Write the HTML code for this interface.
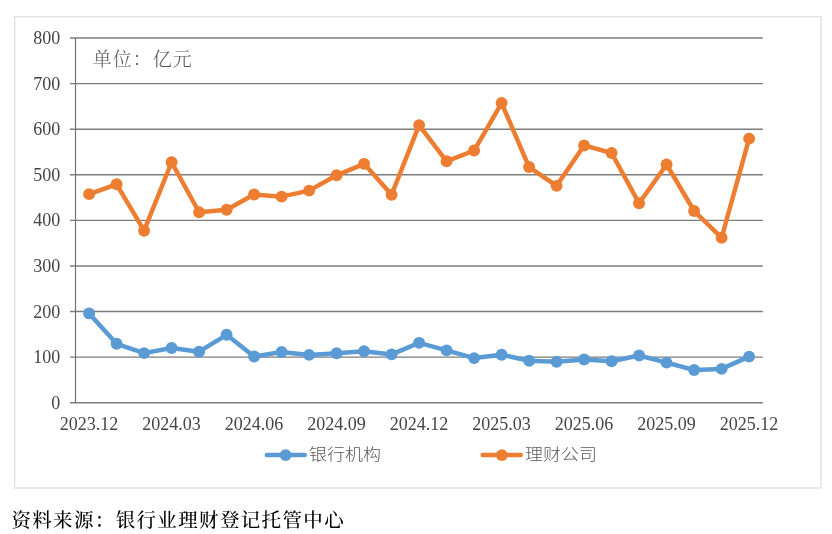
<!DOCTYPE html>
<html><head><meta charset="utf-8"><style>
html,body{margin:0;padding:0;background:#fff;width:832px;height:534px;overflow:hidden}
svg{display:block}
.ax{font-family:"Liberation Serif",serif;font-size:18px;fill:#454545}
.lg{font-family:"Liberation Sans","Noto Sans CJK SC",sans-serif;font-weight:300;font-size:18px;fill:#595959}
.unit{font-family:"Liberation Serif","Noto Serif CJK SC",serif;font-weight:300;font-size:19px;letter-spacing:1px;fill:#595959}
.src{font-family:"Liberation Serif","Noto Serif CJK SC",serif;font-size:19.5px;letter-spacing:1.35px;font-weight:500;fill:#000}
</style></head><body>
<svg width="832" height="534" viewBox="0 0 832 534">
<rect x="14.6" y="16.6" width="806.4" height="471.4" fill="#fff" stroke="#e2e2e2" stroke-width="1.5"/>
<line x1="70" y1="402.75" x2="762.85" y2="402.75" stroke="#7d7d7d" stroke-width="1.4"/>
<line x1="70" y1="357.16" x2="762.85" y2="357.16" stroke="#7d7d7d" stroke-width="1.4"/>
<line x1="70" y1="311.56" x2="762.85" y2="311.56" stroke="#7d7d7d" stroke-width="1.4"/>
<line x1="70" y1="265.97" x2="762.85" y2="265.97" stroke="#7d7d7d" stroke-width="1.4"/>
<line x1="70" y1="220.37" x2="762.85" y2="220.37" stroke="#7d7d7d" stroke-width="1.4"/>
<line x1="70" y1="174.78" x2="762.85" y2="174.78" stroke="#7d7d7d" stroke-width="1.4"/>
<line x1="70" y1="129.19" x2="762.85" y2="129.19" stroke="#7d7d7d" stroke-width="1.4"/>
<line x1="70" y1="83.59" x2="762.85" y2="83.59" stroke="#7d7d7d" stroke-width="1.4"/>
<line x1="70" y1="38" x2="762.85" y2="38" stroke="#7d7d7d" stroke-width="1.4"/>
<line x1="75.5" y1="38" x2="75.5" y2="402.75" stroke="#737373" stroke-width="1.2"/>
<text transform="translate(60.3,408.85) scale(1,1.0)" text-anchor="end" class="ax">0</text>
<text transform="translate(60.3,363.26) scale(1,1.0)" text-anchor="end" class="ax">100</text>
<text transform="translate(60.3,317.66) scale(1,1.0)" text-anchor="end" class="ax">200</text>
<text transform="translate(60.3,272.07) scale(1,1.0)" text-anchor="end" class="ax">300</text>
<text transform="translate(60.3,226.47) scale(1,1.0)" text-anchor="end" class="ax">400</text>
<text transform="translate(60.3,180.88) scale(1,1.0)" text-anchor="end" class="ax">500</text>
<text transform="translate(60.3,135.29) scale(1,1.0)" text-anchor="end" class="ax">600</text>
<text transform="translate(60.3,89.69) scale(1,1.0)" text-anchor="end" class="ax">700</text>
<text transform="translate(60.3,44.1) scale(1,1.0)" text-anchor="end" class="ax">800</text>
<text transform="translate(89.1,430.2) scale(1,1.0)" text-anchor="middle" class="ax">2023.12</text>
<text transform="translate(171.6,430.2) scale(1,1.0)" text-anchor="middle" class="ax">2024.03</text>
<text transform="translate(254.1,430.2) scale(1,1.0)" text-anchor="middle" class="ax">2024.06</text>
<text transform="translate(336.6,430.2) scale(1,1.0)" text-anchor="middle" class="ax">2024.09</text>
<text transform="translate(419.1,430.2) scale(1,1.0)" text-anchor="middle" class="ax">2024.12</text>
<text transform="translate(501.6,430.2) scale(1,1.0)" text-anchor="middle" class="ax">2025.03</text>
<text transform="translate(584.1,430.2) scale(1,1.0)" text-anchor="middle" class="ax">2025.06</text>
<text transform="translate(666.6,430.2) scale(1,1.0)" text-anchor="middle" class="ax">2025.09</text>
<text transform="translate(749.1,430.2) scale(1,1.0)" text-anchor="middle" class="ax">2025.12</text>
<polyline points="89.1,313.42 116.6,343.79 144.1,353.09 171.6,347.98 199.1,351.67 226.6,334.8 254.1,356.51 281.6,351.99 309.1,354.91 336.6,353.32 364.1,351.22 391.6,354.41 419.1,342.83 446.6,350.4 474.1,358.1 501.6,354.68 529.1,360.7 556.6,361.8 584.1,359.43 611.6,361.29 639.1,355.5 666.6,362.66 694.1,370 721.6,368.91 749.1,356.6" fill="none" stroke="#5B9BD5" stroke-width="4.5" stroke-linejoin="round" stroke-linecap="round"/><circle cx="89.1" cy="313.42" r="5.95" fill="#5B9BD5"/><circle cx="116.6" cy="343.79" r="5.95" fill="#5B9BD5"/><circle cx="144.1" cy="353.09" r="5.95" fill="#5B9BD5"/><circle cx="171.6" cy="347.98" r="5.95" fill="#5B9BD5"/><circle cx="199.1" cy="351.67" r="5.95" fill="#5B9BD5"/><circle cx="226.6" cy="334.8" r="5.95" fill="#5B9BD5"/><circle cx="254.1" cy="356.51" r="5.95" fill="#5B9BD5"/><circle cx="281.6" cy="351.99" r="5.95" fill="#5B9BD5"/><circle cx="309.1" cy="354.91" r="5.95" fill="#5B9BD5"/><circle cx="336.6" cy="353.32" r="5.95" fill="#5B9BD5"/><circle cx="364.1" cy="351.22" r="5.95" fill="#5B9BD5"/><circle cx="391.6" cy="354.41" r="5.95" fill="#5B9BD5"/><circle cx="419.1" cy="342.83" r="5.95" fill="#5B9BD5"/><circle cx="446.6" cy="350.4" r="5.95" fill="#5B9BD5"/><circle cx="474.1" cy="358.1" r="5.95" fill="#5B9BD5"/><circle cx="501.6" cy="354.68" r="5.95" fill="#5B9BD5"/><circle cx="529.1" cy="360.7" r="5.95" fill="#5B9BD5"/><circle cx="556.6" cy="361.8" r="5.95" fill="#5B9BD5"/><circle cx="584.1" cy="359.43" r="5.95" fill="#5B9BD5"/><circle cx="611.6" cy="361.29" r="5.95" fill="#5B9BD5"/><circle cx="639.1" cy="355.5" r="5.95" fill="#5B9BD5"/><circle cx="666.6" cy="362.66" r="5.95" fill="#5B9BD5"/><circle cx="694.1" cy="370" r="5.95" fill="#5B9BD5"/><circle cx="721.6" cy="368.91" r="5.95" fill="#5B9BD5"/><circle cx="749.1" cy="356.6" r="5.95" fill="#5B9BD5"/>
<polyline points="89.1,194.15 116.6,184.3 144.1,230.71 171.6,162.23 199.1,212.29 226.6,209.69 254.1,194.47 281.6,196.65 309.1,190.64 336.6,175.32 364.1,163.83 391.6,194.74 419.1,125.12 446.6,161.32 474.1,150.51 501.6,103.05 529.1,167.02 556.6,185.85 584.1,145.45 611.6,153.02 639.1,203.31 666.6,164.51 694.1,211.02 721.6,237.73 749.1,138.61" fill="none" stroke="#ED7D31" stroke-width="4.5" stroke-linejoin="round" stroke-linecap="round"/><circle cx="89.1" cy="194.15" r="5.95" fill="#ED7D31"/><circle cx="116.6" cy="184.3" r="5.95" fill="#ED7D31"/><circle cx="144.1" cy="230.71" r="5.95" fill="#ED7D31"/><circle cx="171.6" cy="162.23" r="5.95" fill="#ED7D31"/><circle cx="199.1" cy="212.29" r="5.95" fill="#ED7D31"/><circle cx="226.6" cy="209.69" r="5.95" fill="#ED7D31"/><circle cx="254.1" cy="194.47" r="5.95" fill="#ED7D31"/><circle cx="281.6" cy="196.65" r="5.95" fill="#ED7D31"/><circle cx="309.1" cy="190.64" r="5.95" fill="#ED7D31"/><circle cx="336.6" cy="175.32" r="5.95" fill="#ED7D31"/><circle cx="364.1" cy="163.83" r="5.95" fill="#ED7D31"/><circle cx="391.6" cy="194.74" r="5.95" fill="#ED7D31"/><circle cx="419.1" cy="125.12" r="5.95" fill="#ED7D31"/><circle cx="446.6" cy="161.32" r="5.95" fill="#ED7D31"/><circle cx="474.1" cy="150.51" r="5.95" fill="#ED7D31"/><circle cx="501.6" cy="103.05" r="5.95" fill="#ED7D31"/><circle cx="529.1" cy="167.02" r="5.95" fill="#ED7D31"/><circle cx="556.6" cy="185.85" r="5.95" fill="#ED7D31"/><circle cx="584.1" cy="145.45" r="5.95" fill="#ED7D31"/><circle cx="611.6" cy="153.02" r="5.95" fill="#ED7D31"/><circle cx="639.1" cy="203.31" r="5.95" fill="#ED7D31"/><circle cx="666.6" cy="164.51" r="5.95" fill="#ED7D31"/><circle cx="694.1" cy="211.02" r="5.95" fill="#ED7D31"/><circle cx="721.6" cy="237.73" r="5.95" fill="#ED7D31"/><circle cx="749.1" cy="138.61" r="5.95" fill="#ED7D31"/>
<line x1="266.8" y1="455.1" x2="304.7" y2="455.1" stroke="#5B9BD5" stroke-width="4.5" stroke-linecap="round"/><circle cx="285.6" cy="455.1" r="5.95" fill="#5B9BD5"/><text transform="translate(309,459.8) scale(1,0.9)" class="lg">银行机构</text>
<line x1="482.7" y1="455.1" x2="520.7" y2="455.1" stroke="#ED7D31" stroke-width="4.5" stroke-linecap="round"/><circle cx="501.9" cy="455.1" r="5.95" fill="#ED7D31"/><text transform="translate(525,459.8) scale(1,0.9)" class="lg">理财公司</text>
<text x="92.8" y="66.1" class="unit">单位：亿元</text>
<text x="11.4" y="527" class="src">资料来源：银行业理财登记托管中心</text>
</svg>
</body></html>
